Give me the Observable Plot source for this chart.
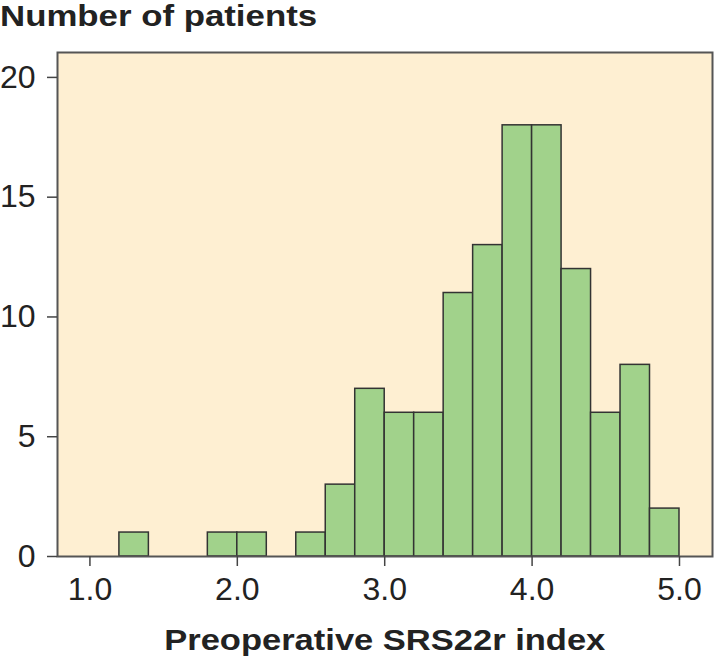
<!DOCTYPE html>
<html>
<head>
<meta charset="utf-8">
<script src="https://cdn.jsdelivr.net/npm/d3@7"></script>
<script src="https://cdn.jsdelivr.net/npm/@observablehq/plot@0.6"></script>
<style>
  html, body { margin: 0; padding: 0; background: #fff; }
  body { width: 714px; font-family: "Liberation Sans", Arial, sans-serif; color: #222; overflow: hidden; }
  #title { font-size: 29px; font-weight: bold; line-height: 32px; height: 32px; white-space: nowrap; }
  #title span { display: inline-block; transform: scaleX(1.2); transform-origin: 0 50%; }
  #xlabel { font-size: 30px; font-weight: bold; line-height: 32px; height: 34px; padding-left: 57px; padding-right: 2px; text-align: center; white-space: nowrap; }
  #xlabel span { display: inline-block; transform: scaleX(1.15); transform-origin: 50% 50%; }
</style>
</head>
<body>
<div id="title"><span>Number of patients</span></div>
<div id="chart"></div>
<div id="xlabel"><span>Preoperative SRS22r index</span></div>
<script>
// Histogram bins (lower / upper edges of each bar) and patient counts
const binLower = [1.2, 1.8, 2.0, 2.4, 2.6, 2.8, 3.0, 3.2, 3.4, 3.6, 3.8, 4.0, 4.2, 4.4, 4.6, 4.8];
const binUpper = [1.4, 2.0, 2.2, 2.6, 2.8, 3.0, 3.2, 3.4, 3.6, 3.8, 4.0, 4.2, 4.4, 4.6, 4.8, 5.0];
const counts   = [1,   1,   1,   1,   3,   7,   6,   6,   11,  13,  18,  18,  12,  6,   8,   2];
const xTicks = [1, 2, 3, 4, 5];
const yTicks = [0, 5, 10, 15, 20];

const data = binLower.map((lo, i) => ({lo, hi: binUpper[i], n: counts[i]}));

const chart = Plot.plot({
  width: 714,
  height: 592,
  marginLeft: 57,
  marginRight: 2,
  marginTop: 20,
  marginBottom: 68,
  style: {fontFamily: "Liberation Sans, Arial, sans-serif", color: "#222", background: "#fff"},
  x: {domain: [0.78, 5.224], label: null},
  y: {domain: [0, 21.04], label: null},
  marks: [
    Plot.frame({fill: "#FEEFD2", stroke: null}),
    Plot.rectY(data, {x1: "lo", x2: "hi", y: "n", fill: "#A1D28B", stroke: "#333", strokeWidth: 1.5, inset: 0}),
    Plot.frame({stroke: "#555", strokeWidth: 2}),
    Plot.axisX({ticks: xTicks, tickFormat: d3.format(".1f"), tickSize: 10, tickPadding: 11, fontSize: 32, label: null, stroke: "#444", strokeWidth: 1.5}),
    Plot.axisY({ticks: yTicks, tickSize: 10, tickPadding: 12, fontSize: 32, label: null, stroke: "#444", strokeWidth: 1.5})
  ]
});
document.getElementById("chart").appendChild(chart);
</script>
</body>
</html>
